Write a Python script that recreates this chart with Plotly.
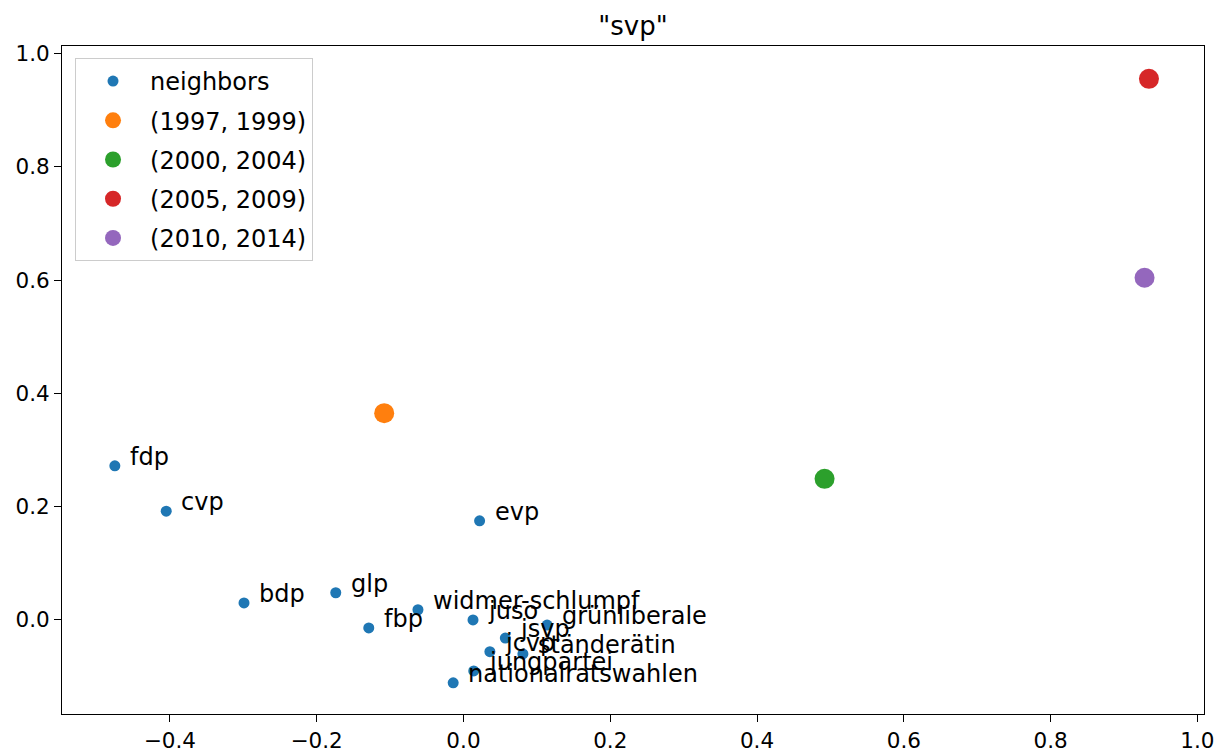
import plotly.graph_objects as go

neighbor_words = ["fdp", "cvp", "bdp", "glp", "fbp", "widmer-schlumpf", "juso", "grünliberale",
                  "jsvp", "jcvp", "ständerätin", "jungpartei", "nationalratswahlen", "evp"]
neighbor_x = [-0.475, -0.405, -0.299, -0.174, -0.129, -0.062, 0.013, 0.114,
              0.057, 0.036, 0.081, 0.014, -0.014, 0.022]
neighbor_y = [0.272, 0.192, 0.030, 0.048, -0.014, 0.018, 0.000, -0.009,
              -0.032, -0.056, -0.060, -0.090, -0.111, 0.175]

period_labels = ["(1997, 1999)", "(2000, 2004)", "(2005, 2009)", "(2010, 2014)"]
period_x = [-0.108, 0.492, 0.934, 0.928]
period_y = [0.365, 0.249, 0.955, 0.604]
period_colors = ["#ff7f0e", "#2ca02c", "#d62728", "#9467bd"]

font_family = "DejaVu Sans"
txt_color = "#000000"

fig = go.Figure()
fig.add_trace(go.Scatter(x=neighbor_x, y=neighbor_y, mode="markers", name="neighbors",
                         legendgroup="g0",
                         marker=dict(color="#1f77b4", size=11, line=dict(width=0))))
for i, (lab, px, py, c) in enumerate(zip(period_labels, period_x, period_y, period_colors)):
    fig.add_trace(go.Scatter(x=[px], y=[py], mode="markers", name=lab, legendgroup=f"g{i+1}",
                             marker=dict(color=c, size=20, line=dict(width=0))))

for w, x, y in zip(neighbor_words, neighbor_x, neighbor_y):
    fig.add_annotation(x=x, y=y, text=w, showarrow=False, xanchor="left", yanchor="middle",
                       xshift=13, yshift=9, font=dict(family=font_family, size=24, color=txt_color))

axis_common = dict(showgrid=False, zeroline=False, showline=True, linecolor="black", linewidth=1,
                   mirror=True, ticks="outside", ticklen=7, tickcolor="black", automargin=False,
                   ticklabeloverflow="allow",
                   tickfont=dict(family=font_family, size=21.5, color=txt_color))

fig.update_layout(
    width=1219, height=752,
    margin=dict(l=62, r=15, t=46, b=38),
    paper_bgcolor="white", plot_bgcolor="white",
    title=dict(text='"svp"', xref="paper", x=0.5, xanchor="center", y=0.966, yanchor="middle",
               font=dict(family=font_family, size=26, color=txt_color)),
    xaxis=dict(range=[-0.547, 1.009], tickvals=[-0.4, -0.2, 0.0, 0.2, 0.4, 0.6, 0.8, 1.0],
               ticktext=["\u22120.4", "\u22120.2", "0.0", "0.2", "0.4", "0.6", "0.8", "1.0"], **axis_common),
    yaxis=dict(range=[-0.166, 1.013], tickvals=[0.0, 0.2, 0.4, 0.6, 0.8, 1.0],
               ticktext=["0.0", "0.2", "0.4", "0.6", "0.8", "1.0"], **axis_common),
    legend=dict(x=0.0114, y=0.982, xanchor="left", yanchor="top", bgcolor="white",
                bordercolor="#cccccc", borderwidth=1, tracegroupgap=5,
                font=dict(family=font_family, size=24, color=txt_color),
                itemsizing="trace", itemwidth=64),
    showlegend=True,
)

fig.write_html("out.html", config={"displayModeBar": False},
               post_script="document.body.style.margin='0';document.body.style.overflow='hidden';")
